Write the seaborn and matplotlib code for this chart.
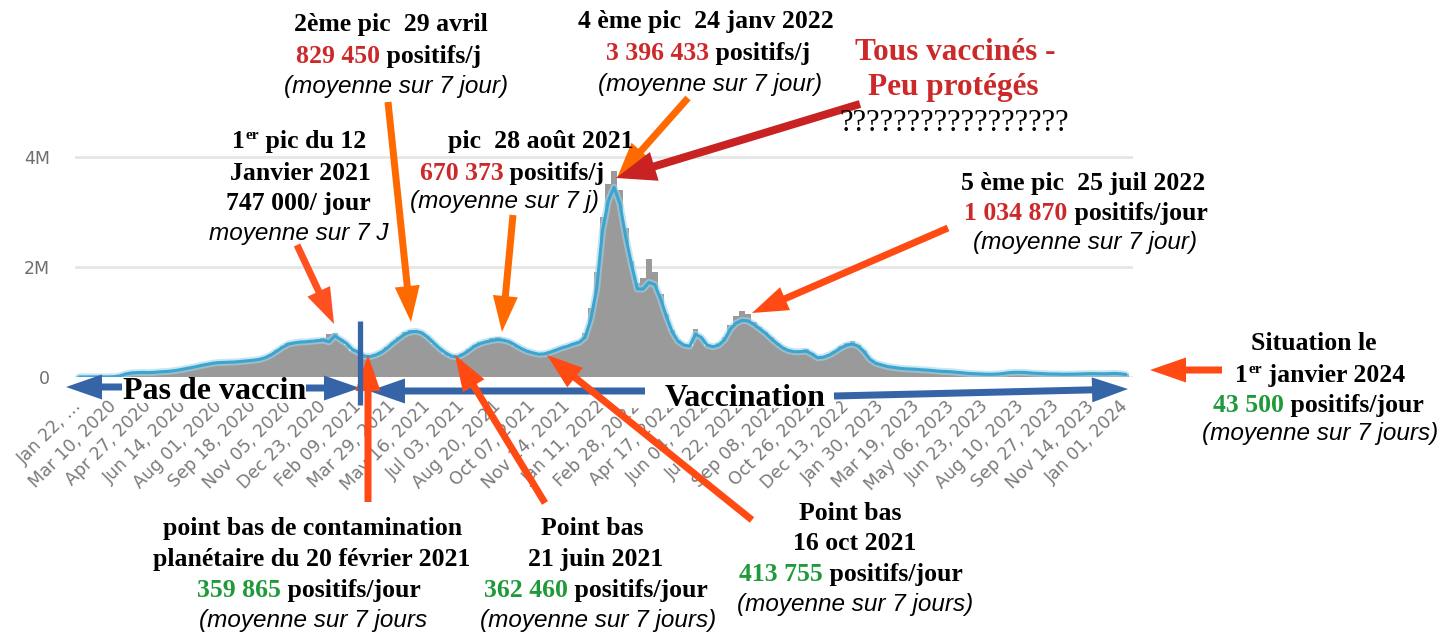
import numpy as np
import pandas as pd
import seaborn as sns
import matplotlib
matplotlib.use("Agg")
import matplotlib.pyplot as plt
from matplotlib.patches import FancyArrowPatch, Rectangle

# nouveaux cas (milliers / jour), un point tous les 8 jours depuis le 22 janv 2020
pas_jours = 8
moyenne_7j = [
    1, 2, 3, 2.5, 2, 1.5,
    5, 20, 55, 75, 80, 82,
    80, 85, 95, 100, 110, 125,
    145, 165, 185, 210, 230, 250,
    262, 265, 270, 275, 285, 295,
    305, 320, 350, 400, 470, 540,
    600, 620, 635, 640, 650, 660,
    670, 640, 750, 680, 610, 500,
    450, 380, 370, 400, 450, 530,
    620, 700, 780, 820, 830, 800,
    720, 620, 520, 440, 380, 365,
    410, 480, 560, 610, 640, 665,
    680, 670, 640, 580, 520, 470,
    440, 415, 420, 450, 490, 530,
    560, 600, 630, 720, 1050, 1600,
    2650, 3200, 3450, 3150, 2550, 2050,
    1600, 1600, 1720, 1680, 1420, 1100,
    820, 650, 580, 560, 780, 720,
    580, 550, 580, 680, 870, 980,
    1030, 1020, 960, 880, 800, 700,
    610, 530, 480, 460, 460, 470,
    420, 350, 360, 400, 460, 530,
    580, 600, 560, 460, 320, 250,
    220, 190, 175, 160, 150, 145,
    140, 130, 125, 115, 105, 100,
    95, 85, 75, 65, 60, 55,
    50, 50, 55, 65, 80, 85,
    85, 80, 70, 65, 60, 55,
    55, 50, 50, 52, 55, 60,
    62, 60, 58, 60, 65, 60,
    45,
]
cas_jour = [
    1, 2, 3, 3, 2, 1,
    8, 25, 60, 80, 85, 80,
    78, 90, 95, 105, 115, 130,
    150, 170, 190, 215, 240, 255,
    265, 260, 275, 280, 290, 300,
    310, 330, 360, 420, 490, 560,
    620, 630, 650, 655, 680, 690,
    700, 780, 800, 690, 590, 480,
    440, 370, 380, 410, 470, 550,
    640, 730, 810, 850, 840, 790,
    700, 600, 500, 420, 370, 380,
    430, 500, 580, 640, 660, 700,
    720, 680, 620, 560, 500, 450,
    430, 410, 430, 470, 510, 550,
    580, 620, 660, 800, 1250, 1900,
    2900, 3500, 3750, 3400, 2700, 2100,
    1700, 1800, 2150, 1900, 1500, 1150,
    850, 680, 600, 560, 880, 700,
    560, 560, 620, 720, 950, 1100,
    1200, 1150, 1000, 900, 820, 720,
    620, 550, 500, 480, 490, 500,
    430, 340, 380, 420, 480, 560,
    620, 650, 580, 470, 320, 240,
    210, 185, 170, 160, 150, 140,
    135, 128, 120, 110, 100, 98,
    92, 82, 72, 62, 58, 52,
    48, 50, 58, 68, 82, 88,
    86, 78, 68, 62, 58, 52,
    52, 50, 50, 54, 56, 62,
    64, 62, 60, 64, 70, 62,
    48,
]
etiquettes_dates = [
    "Jan 22, …", "Mar 10, 2020", "Apr 27, 2020", "Jun 14, 2020", "Aug 01, 2020",
    "Sep 18, 2020", "Nov 05, 2020", "Dec 23, 2020", "Feb 09, 2021", "Mar 29, 2021",
    "May 16, 2021", "Jul 03, 2021", "Aug 20, 2021", "Oct 07, 2021", "Nov 24, 2021",
    "Jan 11, 2022", "Feb 28, 2022", "Apr 17, 2022", "Jun 04, 2022", "Jul 22, 2022",
    "Sep 08, 2022", "Oct 26, 2022", "Dec 13, 2022", "Jan 30, 2023", "Mar 19, 2023",
    "May 06, 2023", "Jun 23, 2023", "Aug 10, 2023", "Sep 27, 2023", "Nov 14, 2023",
    "Jan 01, 2024",
]
pas_etiquettes = 48

sns.set_theme(style="white")
plt.rcParams["font.family"] = ["DejaVu Sans"]

jours = np.arange(len(moyenne_7j)) * pas_jours
df = pd.DataFrame({
    "jour": jours,
    "moyenne": np.array(moyenne_7j) * 1000,
    "cas": np.array(cas_jour) * 1000,
})

W, H = 1449, 635
fig = plt.figure(figsize=(W / 100, H / 100), dpi=100, facecolor="white")


def boite(x0, y0, x1, y1):
    return [x0 / W, 1 - y1 / H, (x1 - x0) / W, (y1 - y0) / H]


ax = fig.add_axes(boite(75, 150, 1133, 377))
ax.bar(df["jour"], df["cas"], width=pas_jours, color="#9a9a9a", linewidth=0)
sns.lineplot(data=df, x="jour", y="moyenne", ax=ax, color="#9fd6ec", lw=5, alpha=0.6)
sns.lineplot(data=df, x="jour", y="moyenne", ax=ax, color="#3ba4cf", lw=2.2)
ax.set_xlim(-5.5, 1449.8)
ax.set_ylim(0, 4.127e6)
ax.set_xlabel("")
ax.set_ylabel("")
ax.set_yticks([0, 2e6, 4e6])
ax.set_yticklabels(["0", "2M", "4M"], color="#6e6e6e", fontsize=12.5)
ax.tick_params(axis="y", length=0, pad=18)
ax.yaxis.grid(True, color="#e6e6e6", lw=2)
ax.set_axisbelow(True)
ax.axhline(0, color="#dbe2ee", lw=1.5, zorder=0)
ax.set_xticks(np.arange(len(etiquettes_dates)) * pas_etiquettes)
ax.set_xticklabels(etiquettes_dates, rotation=45, ha="right", va="center",
                   rotation_mode="anchor", fontsize=12.5, color="#7a7a7a")
ax.tick_params(axis="x", length=0, pad=19)
sns.despine(ax=ax, left=True, bottom=True)

# calque d'annotations en pixels
ov = fig.add_axes([0, 0, 1, 1])
ov.set_xlim(0, W)
ov.set_ylim(H, 0)
ov.axis("off")
ov.set_zorder(5)

SERIF = "Liberation Serif"
ITAL = ["Liberation Sans Narrow", "Liberation Sans"]
NOIR = "black"
ROUGE = "#cc2a2a"
VERT = "#1f9a3a"
BLEU = "#3565a6"
ORANGE = "#ff6a00"
ROUGE_OR = "#ff4a14"
renderer = fig.canvas.get_renderer()


def ligne(xc, yb, morceaux, size=18.5, weight="bold", style="normal", family=SERIF):
    arts = []
    for m in morceaux:
        taille = m[2] if len(m) > 2 else size
        dy = m[3] if len(m) > 3 else 0
        arts.append(ov.text(0, yb - dy, m[0], color=m[1], fontsize=taille, fontweight=weight,
                            fontstyle=style, family=family, ha="left", va="baseline"))
    larg = [t.get_window_extent(renderer).width for t in arts]
    x = xc - sum(larg) / 2
    for t, w in zip(arts, larg):
        t.set_x(x)
        x += w


def ital(xc, yb, texte):
    ligne(xc, yb, [(texte, NOIR)], size=17.5, weight="normal", style="italic", family=ITAL)


def fleche(x0, y0, x1, y1, couleur, tl=36, tw=25, corps=7):
    k = 20 * 100 / 72
    style = f"simple,head_length={tl / k:.3f},head_width={tw / k:.3f},tail_width={corps / k:.3f}"
    ov.add_patch(FancyArrowPatch((x0, y0), (x1, y1), arrowstyle=style, mutation_scale=20,
                                 color=couleur, lw=0, shrinkA=0, shrinkB=0))


# zones blanches derriere les libelles de periode
ov.add_patch(Rectangle((118, 379), 192, 24, color="white", lw=0))
ov.add_patch(Rectangle((600, 379), 236, 29, color="white", lw=0))

# periodes
ligne(215, 399, [("Pas de vaccin", NOIR)], size=23)
ligne(745, 406, [("Vaccination", NOIR)], size=23)
fleche(122, 387, 66, 387, BLEU)
fleche(306, 388, 360, 388, BLEU)
fleche(645, 391, 369, 391, BLEU)
fleche(834, 396, 1128, 389, BLEU)
ov.plot([360, 360], [321, 405], color=BLEU, lw=3.8, solid_capstyle="butt")

# 1er pic
ligne(299, 148, [("1", NOIR), ("er", NOIR, 11, 9), (" pic du 12", NOIR)])
ligne(300, 180, [("Janvier 2021", NOIR)])
ligne(298, 210, [("747 000/ jour", NOIR)])
ital(299, 240, "moyenne sur 7 J")
fleche(297, 245, 334, 324, "#ff5020")

# 2eme pic
ligne(391, 31, [("2ème pic  29 avril", NOIR)])
ligne(389, 63, [("829 450", ROUGE), (" positifs/j", NOIR)])
ital(396, 93, "(moyenne sur 7 jour)")
fleche(388, 102, 411, 322, ORANGE)

# pic aout 2021
ligne(541, 148, [("pic  28 août 2021", NOIR)])
ligne(512, 180, [("670 373", ROUGE), (" positifs/j", NOIR)])
ital(505, 208, "(moyenne sur 7 j)")
fleche(513, 215, 502, 332, ORANGE)

# 4eme pic
ligne(706, 28, [("4 ème pic  24 janv 2022", NOIR)])
ligne(708, 60, [("3 396 433", ROUGE), (" positifs/j", NOIR)])
ital(710, 91, "(moyenne sur 7 jour)")
fleche(688, 98, 617, 178, ORANGE)

# tous vaccines
ligne(955, 60, [("Tous vaccinés -", ROUGE)], size=22.5)
ligne(953, 95, [("Peu protégés", ROUGE)], size=22.5)
ligne(954, 131, [("?????????????????", NOIR)], size=22, weight="normal")
fleche(860, 104, 616, 178, "#c82222", tl=40, tw=30, corps=8)

# 5eme pic
ligne(1083, 190, [("5 ème pic  25 juil 2022", NOIR)])
ligne(1086, 220, [("1 034 870", ROUGE), (" positifs/jour", NOIR)])
ital(1085, 249, "(moyenne sur 7 jour)")
fleche(948, 228, 752, 313, ROUGE_OR)

# situation 2024
ligne(1314, 350, [("Situation le", NOIR)])
ligne(1320, 382, [("1", NOIR), ("er", NOIR, 11, 9), (" janvier 2024", NOIR)])
ligne(1318, 412, [("43 500", VERT), (" positifs/jour", NOIR)])
ital(1320, 440, "(moyenne sur 7 jours)")
fleche(1222, 370, 1150, 370, ROUGE_OR)

# point bas fevrier 2021
ligne(313, 535, [("point bas de contamination", NOIR)])
ligne(312, 566, [("planétaire du 20 février 2021", NOIR)])
ligne(309, 597, [("359 865", VERT), (" positifs/jour", NOIR)])
ital(313, 627, "(moyenne sur 7 jours")
fleche(368, 502, 368, 355, ROUGE_OR)

# point bas juin 2021
ligne(592, 535, [("Point bas", NOIR)])
ligne(596, 566, [("21 juin 2021", NOIR)])
ligne(596, 597, [("362 460", VERT), (" positifs/jour", NOIR)])
ital(598, 627, "(moyenne sur 7 jours)")
fleche(545, 503, 455, 355, ROUGE_OR)

# point bas octobre 2021
ligne(850, 520, [("Point bas", NOIR)])
ligne(855, 550, [("16 oct 2021", NOIR)])
ligne(851, 581, [("413 755", VERT), (" positifs/jour", NOIR)])
ital(855, 611, "(moyenne sur 7 jours)")
fleche(752, 520, 547, 355, ROUGE_OR)

fig.savefig("out.png", dpi=100, facecolor="white")
